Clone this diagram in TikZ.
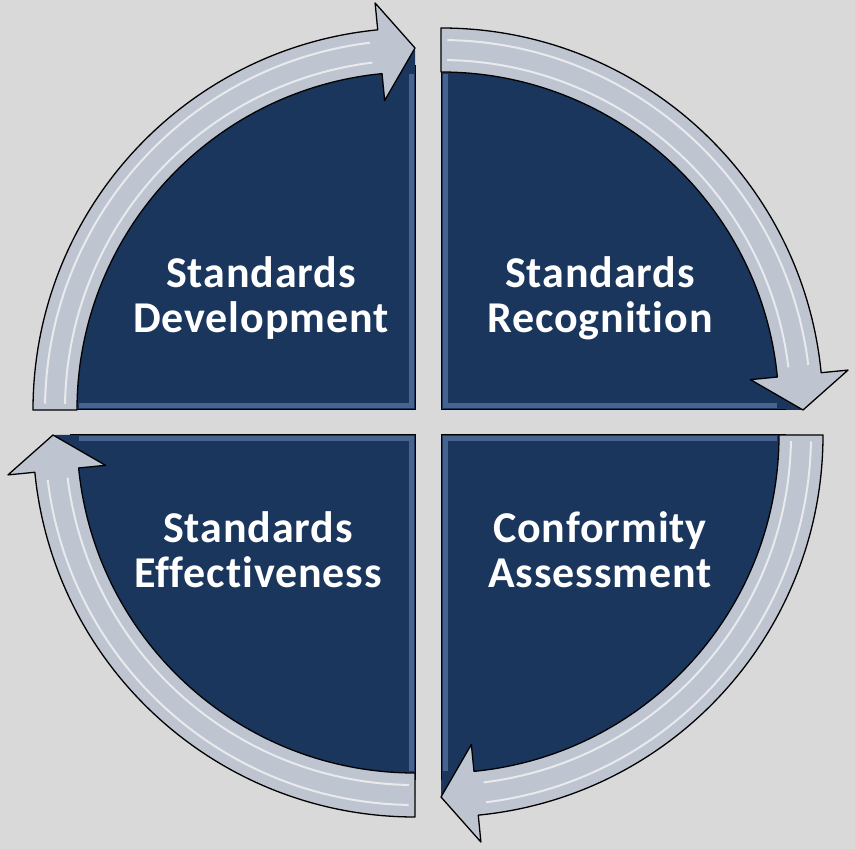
\documentclass[tikz,border=0pt]{standalone}
\usepackage{fontspec}
\setmainfont{Carlito}[LetterSpace=2,Ligatures=NoCommon]
\usepackage{tikz}

\definecolor{slide}{HTML}{D9D9D9}
\definecolor{navy}{HTML}{1A365D}
\definecolor{bevel}{HTML}{7D9CC8}
\definecolor{silver}{HTML}{BEC4D0}

\begin{document}
\begin{tikzpicture}[x=1pt,y=1pt,
    sector/.style={fill=navy},
    rim/.style={draw=black,line width=1pt},
    shine/.style={draw=white,line width=2pt,opacity=.65},
    cyclearrow/.style={fill=silver,draw=black,line width=1.3pt,line join=round},
    label/.style={text=white,font=\fontsize{44}{45}\selectfont\bfseries,align=center}]
  \useasboundingbox[fill=slide] (0,0) rectangle (855,849);

  % one quarter + its arrow, turned round the four corners
  \foreach \cx/\cy/\rot in {415/439/0, 441/439/-90, 441/414/180, 415/414/90}{
    \begin{scope}[shift={(\cx,\cy)},rotate=\rot]
      \fill[sector] (0,0) -- (180:360pt) arc[start angle=180,end angle=90,radius=360pt] -- cycle;
      \draw[bevel,line width=5pt,opacity=.45] (-336pt,4pt) -- (-4pt,4pt) -- (-4pt,336pt);
      \draw[rim] (180:345pt) -- (0,0) -- (90:345pt);
      \draw[cyclearrow] (180:338pt) arc[start angle=180,end angle=95.6,radius=338pt]
        -- (95.6:311pt) -- (90:362pt) -- (95.6:409pt) -- (95.6:382pt)
        arc[start angle=95.6,end angle=180,radius=382pt] -- cycle;
      \draw[shine] (179:350pt) arc[start angle=179,end angle=97,radius=350pt];
      \draw[shine] (179:370pt) arc[start angle=179,end angle=97,radius=370pt];
    \end{scope}
  }

  \node[label] (dev)  at (261,551) {Standards\\Development};
  \node[label] (rec)  at (600,551) {Standards\\Recognition};
  \node[label] (conf) at (600,299) {Conformity\\Assessment};
  \node[label] (eff)  at (258,299) {Standards\\Effectiveness};
\end{tikzpicture}
\end{document}
